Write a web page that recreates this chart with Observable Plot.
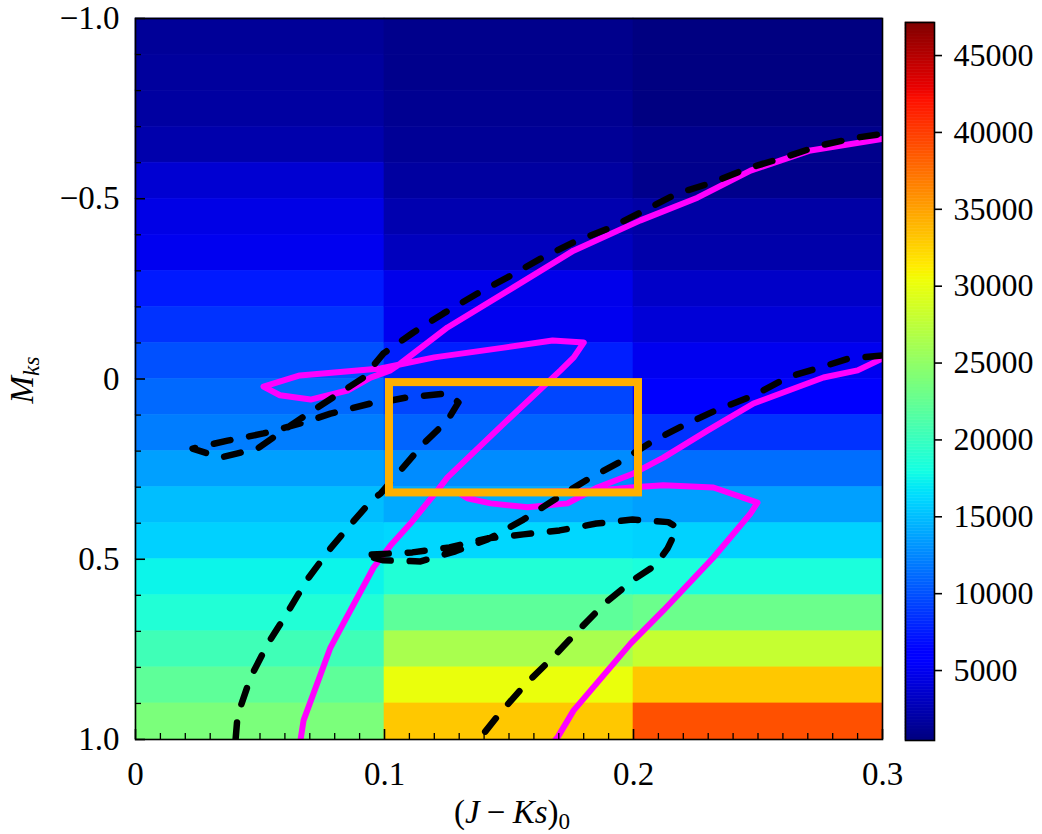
<!DOCTYPE html>
<html>
<head>
<meta charset="utf-8">
<script src="https://cdn.jsdelivr.net/npm/d3@7"></script>
<script src="https://cdn.jsdelivr.net/npm/@observablehq/plot@0.6"></script>
<style>
  body { margin: 0; background: #fff; }
  #wrap { position: relative; width: 1042px; height: 834px; font-family: "Liberation Serif", "DejaVu Serif", serif; color: #000; }
  #main, #bar { position: absolute; top: 0; }
  #main { left: 0; }
  #bar { left: 890px; }
  .title { position: absolute; font-size: 33px; white-space: nowrap; line-height: 1; }
  .title i { font-style: italic; }
  .title sub { font-size: 0.7em; vertical-align: -0.3em; line-height: 0; }
  .title .op { margin: 0 0.22em; }
  #ytitle { left: 22px; top: 380px; transform: translate(-50%, -50%) rotate(-90deg); }
  #xtitle { left: 512px; top: 812px; transform: translate(-50%, -50%); }
</style>
</head>
<body>
<div id="wrap">
  <div id="main"></div>
  <div id="bar"></div>
  <div class="title" id="ytitle"><i>M</i><sub><i>ks</i></sub></div>
  <div class="title" id="xtitle">(<i>J</i><span class="op">−</span><i>Ks</i>)<sub>0</sub></div>
</div>
<script>
// Bin edges of the 2-D histogram
const jkEdges = [0, 0.1, 0.2, 0.3];
const mksEdges = [-1.0, -0.9, -0.8, -0.7, -0.6, -0.5, -0.4, -0.3, -0.2, -0.1, 0.0,
                  0.1, 0.2, 0.3, 0.4, 0.5, 0.6, 0.7, 0.8, 0.9, 1.0];

// Counts per colour bin, top (Mks = -1.0) to bottom (Mks = 1.0)
const countsJK0 = [1450, 1620, 1800, 2250, 3770, 4560, 4980, 7430, 8580, 9930,
                   11100, 12030, 13620, 14970, 15860, 17500, 18660, 20390, 22120, 23800];
const countsJK1 = [950, 950, 1150, 1350, 1760, 2360, 2970, 4790, 4980, 7640,
                   9510, 10870, 12690, 14090, 16140, 18660, 22070, 26370, 30100, 33050];
const countsJK2 = [500, 500, 500, 950, 950, 1960, 2180, 3370, 3980, 4980,
                   6050, 8580, 11330, 13620, 15910, 18300, 22870, 28000, 33050, 38980];

// Colour range of the colour bar and its ticks
const countDomain = [450, 47150];
const countTicks = [5000, 10000, 15000, 20000, 25000, 30000, 35000, 40000, 45000];

// Axis ticks
const xMajor = [0, 0.1, 0.2, 0.3];
const xMinor = [0.01, 0.02, 0.03, 0.04, 0.05, 0.06, 0.07, 0.08, 0.09,
                0.11, 0.12, 0.13, 0.14, 0.15, 0.16, 0.17, 0.18, 0.19,
                0.21, 0.22, 0.23, 0.24, 0.25, 0.26, 0.27, 0.28, 0.29];
const yMajor = [-1, -0.5, 0, 0.5, 1];
const yMinor = [-0.9, -0.8, -0.7, -0.6, -0.4, -0.3, -0.2, -0.1,
                0.1, 0.2, 0.3, 0.4, 0.6, 0.7, 0.8, 0.9];

// Isochrone tracks: [J-Ks, Mks]
const solidA = [[0.0663, 1.0], [0.0675, 0.947], [0.0783, 0.745], [0.0835, 0.678], [0.0956, 0.523],
  [0.1024, 0.462], [0.1104, 0.401], [0.1213, 0.309], [0.1253, 0.273], [0.148, 0.123],
  [0.1707, -0.024], [0.176, -0.06], [0.180, -0.101], [0.1675, -0.107], [0.148, -0.087],
  [0.12, -0.06], [0.0984, -0.029], [0.066, -0.01], [0.0514, 0.021], [0.058, 0.045],
  [0.0703, 0.057], [0.0851, 0.032], [0.0944, -0.004], [0.1024, -0.024], [0.1064, -0.043],
  [0.1253, -0.143], [0.1518, -0.254], [0.1759, -0.356], [0.2028, -0.44], [0.2257, -0.503],
  [0.247, -0.578], [0.2711, -0.634], [0.3, -0.666]];
const solidB = [[0.3, -0.057], [0.290, -0.024], [0.2763, -0.004], [0.2482, 0.068], [0.2297, 0.143],
  [0.212, 0.218], [0.2, 0.262], [0.1855, 0.301], [0.1735, 0.345], [0.1574, 0.356],
  [0.1426, 0.345], [0.1333, 0.331], [0.1305, 0.318], [0.1867, 0.309], [0.1988, 0.301],
  [0.212, 0.295], [0.2321, 0.301], [0.2498, 0.343], [0.247, 0.373], [0.2321, 0.495],
  [0.212, 0.642], [0.1988, 0.734], [0.1759, 0.92], [0.1695, 0.994], [0.1687, 1.0]];
const dashedC = [[0.0402, 1.0], [0.041, 0.933], [0.0462, 0.828], [0.053, 0.736], [0.061, 0.648],
  [0.0687, 0.559], [0.0783, 0.470], [0.0871, 0.398], [0.0956, 0.331], [0.0984, 0.318],
  [0.1064, 0.254], [0.1157, 0.179], [0.1253, 0.115], [0.1297, 0.065], [0.1253, 0.040],
  [0.1092, 0.051], [0.0984, 0.065], [0.0944, 0.068], [0.0783, 0.096], [0.0675, 0.121],
  [0.0514, 0.151], [0.037, 0.171], [0.0229, 0.193], [0.0341, 0.218], [0.049, 0.193],
  [0.0635, 0.123], [0.0731, 0.079], [0.0916, -0.004], [0.0996, -0.071], [0.1116, -0.129],
  [0.1237, -0.182], [0.1373, -0.237], [0.1494, -0.282], [0.1627, -0.334], [0.1759, -0.379],
  [0.1908, -0.42], [0.2028, -0.462], [0.2177, -0.515], [0.2317, -0.545], [0.2458, -0.584],
  [0.2602, -0.614], [0.2751, -0.648], [0.29, -0.670], [0.3, -0.680]];
const dashedD = [[0.3, -0.065], [0.287, -0.058], [0.276, -0.034], [0.262, -0.005], [0.2482, 0.046],
  [0.2337, 0.085], [0.2209, 0.126], [0.2076, 0.173], [0.1948, 0.229], [0.1815, 0.279],
  [0.1695, 0.329], [0.1558, 0.390], [0.1414, 0.445], [0.1285, 0.478], [0.1145, 0.506],
  [0.0996, 0.503], [0.0916, 0.488], [0.1112, 0.481], [0.1261, 0.467], [0.1414, 0.442],
  [0.1558, 0.431], [0.1703, 0.420], [0.1851, 0.401], [0.1996, 0.390], [0.214, 0.397],
  [0.2177, 0.412], [0.2137, 0.470], [0.2088, 0.517], [0.2008, 0.553], [0.1888, 0.62],
  [0.1775, 0.70], [0.1675, 0.773], [0.1566, 0.847], [0.1466, 0.925], [0.1386, 0.994],
  [0.1378, 1.0]];

// Selection box [x1, x2, y1, y2]
const selBox = [[0.102, 0.202, 0.010, 0.316]];

// matplotlib "jet" colour map
const jetR = [[0, 0], [0.35, 0], [0.66, 1], [0.89, 1], [1, 0.5]];
const jetG = [[0, 0], [0.125, 0], [0.375, 1], [0.64, 1], [0.91, 0], [1, 0]];
const jetB = [[0, 0.5], [0.11, 1], [0.34, 1], [0.65, 0], [1, 0]];
function piece(stops, t) {
  for (let i = 1; i < stops.length; i++) {
    if (t <= stops[i][0]) {
      const [t0, v0] = stops[i - 1], [t1, v1] = stops[i];
      return v0 + (v1 - v0) * (t - t0) / (t1 - t0);
    }
  }
  return stops[stops.length - 1][1];
}
function jet(t) {
  t = Math.max(0, Math.min(1, t));
  return d3.rgb(255 * piece(jetR, t), 255 * piece(jetG, t), 255 * piece(jetB, t)).formatHex();
}

const colorScale = {type: "linear", domain: countDomain, interpolate: jet};

// Histogram cells
const columns = [countsJK0, countsJK1, countsJK2];
const cells = [];
columns.forEach((counts, c) => {
  counts.forEach((v, r) => {
    cells.push({x1: jkEdges[c], x2: jkEdges[c + 1], y1: mksEdges[r], y2: mksEdges[r + 1], count: v});
  });
});

const toPts = arr => arr.map(([x, y]) => ({x, y}));
const fmtY = d => d === 0 ? "0" : (d < 0 ? "\u2212" : "") + Math.abs(d).toFixed(1);
const fmtX = d => d === 0 ? "0" : d.toFixed(1);
const blank = () => "";
const serif = "Liberation Serif, DejaVu Serif, serif";
const dash = {stroke: "#000", strokeWidth: 6.5, strokeDasharray: "17,19", strokeLinecap: "round", strokeLinejoin: "round", clip: true};
const solid = {stroke: "#ff00ff", strokeWidth: 6, strokeLinejoin: "round", clip: true};

const main = Plot.plot({
  width: 900,
  height: 834,
  marginLeft: 135,
  marginRight: 18,
  marginTop: 18,
  marginBottom: 95,
  style: {fontFamily: serif, fontSize: "32px", background: "transparent", overflow: "visible"},
  x: {domain: [0, 0.3]},
  y: {domain: [-1, 1], reverse: true},
  color: colorScale,
  marks: [
    Plot.rect(cells, {x1: "x1", x2: "x2", y1: "y1", y2: "y2", fill: "count", stroke: "count", strokeWidth: 0.6}),
    Plot.line(toPts(solidA), {x: "x", y: "y", ...solid}),
    Plot.line(toPts(solidB), {x: "x", y: "y", ...solid}),
    Plot.line(toPts(dashedC), {x: "x", y: "y", ...dash}),
    Plot.line(toPts(dashedD), {x: "x", y: "y", ...dash}),
    Plot.rect(selBox, {x1: d => d[0], x2: d => d[1], y1: d => d[2], y2: d => d[3], fill: "none", stroke: "#ffb000", strokeWidth: 8}),
    Plot.frame({stroke: "#000", strokeWidth: 1.6}),
    // inward ticks
    Plot.axisX(xMajor, {anchor: "bottom", tickSize: 10, dy: -10, tickFormat: blank, strokeWidth: 1.6, label: null}),
    Plot.axisX(xMinor, {anchor: "bottom", tickSize: 6, dy: -6, tickFormat: blank, strokeWidth: 1.3, label: null}),
    Plot.axisY(yMajor, {anchor: "left", tickSize: 10, dx: 10, tickFormat: blank, strokeWidth: 1.6, label: null}),
    Plot.axisY(yMinor, {anchor: "left", tickSize: 6, dx: 6, tickFormat: blank, strokeWidth: 1.3, label: null}),
    // tick labels
    Plot.axisX(xMajor, {anchor: "bottom", tickSize: 0, tickPadding: 22, tickFormat: fmtX, fontSize: 33, label: null}),
    Plot.axisY(yMajor, {anchor: "left", tickSize: 0, tickPadding: 16, tickFormat: fmtY, fontSize: 33, label: null})
  ]
});
document.getElementById("main").appendChild(main);

// Colour bar
const nLevels = 240;
const step = (countDomain[1] - countDomain[0]) / nLevels;
const levels = d3.range(nLevels).map(i => ({lo: countDomain[0] + i * step, hi: countDomain[0] + (i + 1) * step}));

const bar = Plot.plot({
  width: 152,
  height: 834,
  marginLeft: 15,
  marginRight: 108,
  marginTop: 22,
  marginBottom: 94,
  style: {fontFamily: serif, fontSize: "32px", background: "transparent", overflow: "visible"},
  x: {domain: [0, 1], axis: null},
  y: {domain: countDomain},
  color: colorScale,
  marks: [
    Plot.rect(levels, {x1: 0, x2: 1, y1: "lo", y2: "hi", fill: d => (d.lo + d.hi) / 2, stroke: d => (d.lo + d.hi) / 2, strokeWidth: 0.5}),
    Plot.frame({stroke: "#000", strokeWidth: 1.6}),
    Plot.axisY(countTicks, {anchor: "right", tickSize: 7, tickPadding: 12, tickFormat: d => String(d), fontSize: 32, strokeWidth: 1.6, label: null})
  ]
});
document.getElementById("bar").appendChild(bar);
</script>
</body>
</html>
